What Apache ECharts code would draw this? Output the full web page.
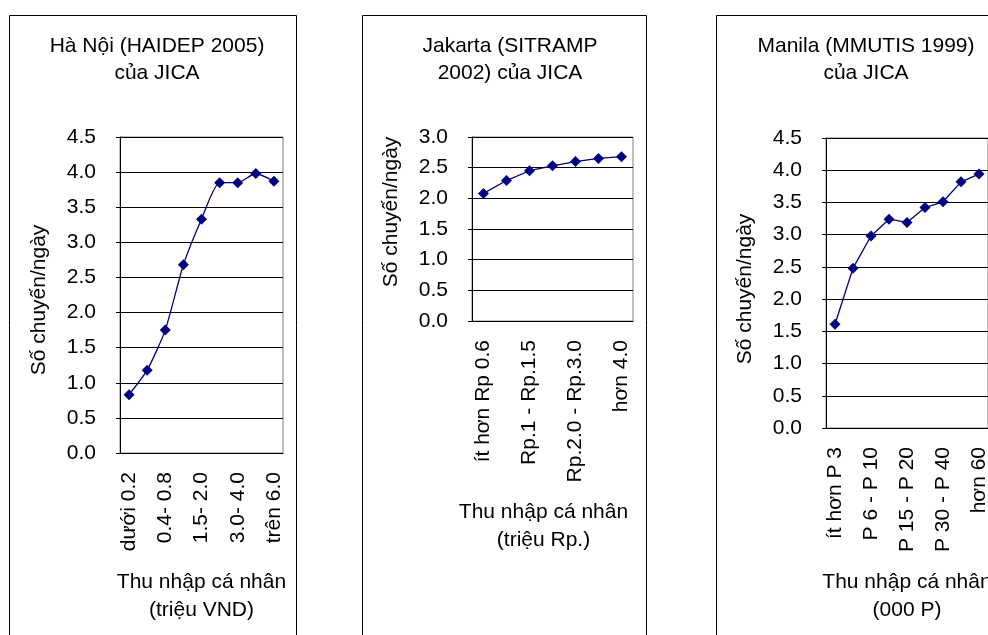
<!DOCTYPE html>
<html>
<head>
<meta charset="utf-8">
<script src="https://cdn.jsdelivr.net/npm/echarts@6/dist/echarts.min.js"></script>
<style>
html, body { margin: 0; padding: 0; background: #fff; }
#main { width: 988px; height: 635px; }
</style>
</head>
<body>
<div id="main"></div>
<script>
// số liệu
var hanoiCats = ['dưới 0.2', '0.2- 0.4', '0.4- 0.8', '0.8- 1.5', '1.5- 2.0', '2.0- 3.0', '3.0- 4.0', '4.0- 6.0', 'trên 6.0'];
var hanoiTrips = [0.83, 1.18, 1.75, 2.68, 3.33, 3.85, 3.85, 3.98, 3.87];

var jakartaCats = ['ít hơn Rp 0.6', 'Rp.0.6 - Rp.1', 'Rp.1 - Rp.1.5', 'Rp.1.5 - Rp.2.0', 'Rp.2.0 - Rp.3.0', 'Rp.3.0 - Rp.4.0', 'hơn 4.0'];
var jakartaTrips = [2.08, 2.29, 2.45, 2.53, 2.6, 2.65, 2.68];

var manilaCats = ['ít hơn P 3', 'P 3 - P 6', 'P 6 - P 10', 'P 10 - P 15', 'P 15 - P 20', 'P 20 - P 30', 'P 30 - P 40', 'P 40 - P 60', 'hơn 60'];
var manilaTrips = [1.61, 2.48, 2.98, 3.24, 3.19, 3.42, 3.51, 3.82, 3.94];

var yName = 'Số chuyến/ngày';
var font = 'Liberation Sans, Arial, sans-serif';
var navy = '#000080';

function grid(left, top, width, height) {
    return {
        left: left, top: top, width: width, height: height,
        show: true, borderColor: '#808080', borderWidth: 1,
        containLabel: false, outerBoundsMode: 'none'
    };
}

function xAxis(idx, cats, name, gap, pad) {
    return {
        type: 'category', gridIndex: idx, data: cats,
        name: name, nameLocation: 'middle', nameGap: gap,
        nameTextStyle: { fontSize: 21, lineHeight: 28, color: '#000', fontFamily: font, padding: pad || 0 },
        axisLine: { lineStyle: { color: '#000', width: 1 } },
        axisTick: { interval: 0, inside: true, length: 5, lineStyle: { color: '#000' } },
        axisLabel: { interval: 1, rotate: 90, margin: 19, fontSize: 21, color: '#000', fontFamily: font },
        splitLine: { show: false }
    };
}

function yAxis(idx, max, pad) {
    return {
        type: 'value', gridIndex: idx, min: 0, max: max, interval: 0.5,
        name: yName, nameLocation: 'middle', nameGap: 70, nameRotate: 90,
        nameTextStyle: { fontSize: 21, color: '#000', fontFamily: font, padding: pad || 0 },
        axisLine: { show: true, lineStyle: { color: '#000', width: 1 } },
        axisTick: { show: true, length: 4, lineStyle: { color: '#000' } },
        axisLabel: {
            margin: 24, fontSize: 21, color: '#000', fontFamily: font,
            formatter: function (v) { return v.toFixed(1); }
        },
        splitLine: { show: true, lineStyle: { color: '#000', width: 1 } }
    };
}

function line(idx, data, smooth) {
    return {
        type: 'line', xAxisIndex: idx, yAxisIndex: idx, data: data,
        smooth: smooth, symbol: 'diamond', symbolSize: 11,
        lineStyle: { color: navy, width: 1.3 },
        itemStyle: { color: navy },
        animation: false
    };
}

var titleStyle = { fontSize: 21, lineHeight: 27, fontWeight: 'normal', color: '#000', fontFamily: font };

var myChart = echarts.init(document.getElementById('main'));

var option = {
    backgroundColor: '#fff',
    animation: false,
    title: [
        { text: 'Hà Nội (HAIDEP 2005)\ncủa JICA', left: 157, top: 33, textAlign: 'center', textStyle: titleStyle, padding: 0 },
        { text: 'Jakarta (SITRAMP\n2002) của JICA', left: 510, top: 33, textAlign: 'center', textStyle: titleStyle, padding: 0 },
        { text: 'Manila (MMUTIS 1999)\ncủa JICA', left: 866, top: 33, textAlign: 'center', textStyle: titleStyle, padding: 0 }
    ],
    graphic: [
        { type: 'rect', shape: { x: 9.5, y: 15.5, width: 287, height: 640 }, style: { fill: 'none', stroke: '#000', lineWidth: 1 }, silent: true },
        { type: 'rect', shape: { x: 362.5, y: 15.5, width: 284, height: 640 }, style: { fill: 'none', stroke: '#000', lineWidth: 1 }, silent: true },
        { type: 'rect', shape: { x: 716.5, y: 15.5, width: 300, height: 640 }, style: { fill: 'none', stroke: '#000', lineWidth: 1 }, silent: true }
    ],
    grid: [
        grid(120, 137, 163, 316),
        grid(472, 137, 161, 184),
        grid(826, 138, 162, 290)
    ],
    xAxis: [
        xAxis(0, hanoiCats, 'Thu nhập cá nhân\n(triệu VND)', 115),
        xAxis(1, jakartaCats, 'Thu nhập cá nhân\n(triệu Rp.)', 177, [0, 18, 0, 0]),
        xAxis(2, manilaCats, 'Thu nhập cá nhân\n(000 P)', 140)
    ],
    yAxis: [
        yAxis(0, 4.5, [0, 10, 0, 0]),
        yAxis(1, 3.0, [0, 0, 0, 34]),
        yAxis(2, 4.5, [0, 12, 0, 0])
    ],
    series: [
        line(0, hanoiTrips, 0.2),
        line(1, jakartaTrips, false),
        line(2, manilaTrips, false)
    ]
};

myChart.setOption(option);
</script>
</body>
</html>
